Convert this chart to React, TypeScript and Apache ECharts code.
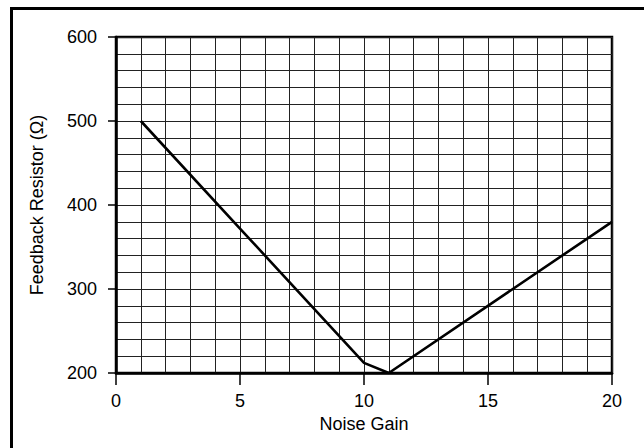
import React, { useEffect, useRef } from "react";
import * as echarts from "echarts";

const noiseGain = [1, 5, 10, 11, 20];
const resistance = [500, 372, 212, 200, 380];
const xTicks = [0, 5, 10, 15, 20];
const yTicks = [200, 300, 400, 500, 600];

export default function App() {
  const ref = useRef<HTMLDivElement>(null);
  useEffect(() => {
    if (!ref.current) return;
    const chart = echarts.init(ref.current, undefined, { renderer: "svg" });
    const font = "'Liberation Sans', Arial, Helvetica, sans-serif";
    chart.setOption({
      animation: false,
      backgroundColor: "#fff",
      grid: {
        left: 116,
        right: 32,
        top: 37,
        bottom: 75,
        show: true,
        borderColor: "#000",
        borderWidth: 2.5,
      },
      graphic: [
        {
          type: "polyline",
          shape: { points: [[11.5, 460], [11.5, 8.5], [660, 8.5]] },
          style: { stroke: "#000", lineWidth: 3, fill: "none" },
          silent: true,
        },
      ],
      xAxis: {
        type: "value",
        min: xTicks[0],
        max: xTicks[xTicks.length - 1],
        interval: 5,
        name: "Noise Gain",
        nameLocation: "middle",
        nameGap: 42,
        nameTextStyle: { fontFamily: font, fontSize: 18, color: "#000" },
        axisLine: { show: true, lineStyle: { color: "#000", width: 2.5 } },
        axisTick: { show: true, length: 12, lineStyle: { color: "#000", width: 1.5 } },
        axisLabel: { fontFamily: font, fontSize: 18, color: "#000", margin: 19 },
        splitLine: { show: true, lineStyle: { color: "#222", width: 1 } },
        minorTick: { show: false, splitNumber: 5 },
        minorSplitLine: { show: true, lineStyle: { color: "#222", width: 1 } },
      },
      yAxis: {
        type: "value",
        min: yTicks[0],
        max: yTicks[yTicks.length - 1],
        interval: 100,
        name: "Feedback Resistor (Ω)",
        nameLocation: "middle",
        nameGap: 70,
        nameTextStyle: { fontFamily: font, fontSize: 18, color: "#000" },
        axisLine: { show: true, lineStyle: { color: "#000", width: 2.5 } },
        axisTick: { show: true, length: 8, lineStyle: { color: "#000", width: 1.5 } },
        axisLabel: { fontFamily: font, fontSize: 18, color: "#000", margin: 19 },
        splitLine: { show: true, lineStyle: { color: "#222", width: 1 } },
        minorTick: { show: false, splitNumber: 5 },
        minorSplitLine: { show: true, lineStyle: { color: "#222", width: 1 } },
      },
      series: [
        {
          type: "line",
          data: noiseGain.map((x, i) => [x, resistance[i]]),
          showSymbol: false,
          symbol: "none",
          lineStyle: { color: "#000", width: 2.6 },
          z: 5,
        },
      ],
    });
    return () => chart.dispose();
  }, []);
  return <div ref={ref} style={{ width: 644, height: 448, position: "absolute", left: 0, top: 0 }} />;
}
